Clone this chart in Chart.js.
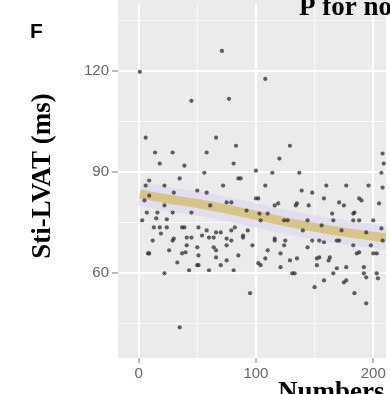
<!DOCTYPE html>
<html lang="en">
<head>
    <meta charset="UTF-8" />
    <title>Sti-LVAT vs Numbers</title>
    <script src="https://cdn.jsdelivr.net/npm/chart.js@4.4.1/dist/chart.umd.min.js"></script>
    <style>
        body { margin: 0; background: #ffffff; }
        #wrap { width: 390px; height: 394px; overflow: hidden; }
    </style>
</head>
<body>
    <div id="wrap"><canvas id="chart" width="390" height="394"></canvas></div>

    <script>
        // === Data ===
        const NUMBERS = [
            1, 71, 108, 45, 77, 6, 66, 14, 29, 58, 83, 129, 120, 18, 81, 56, 85, 114, 137, 209,
            208, 207, 35, 30, 58, 108, 139, 148, 177, 208, 6, 72, 87, 188, 79, 100, 119, 134, 171, 190,
            165, 184, 7, 16, 29, 45, 15, 24, 18, 37, 51, 66, 82, 93, 104, 124, 144, 183, 200, 29,
            45, 60, 79, 89, 116, 124, 148, 158, 171, 198, 9, 40, 51, 66, 85, 108, 129, 152, 163, 188,
            203, 51, 102, 177, 24, 58, 79, 19, 41, 54, 64, 75, 41, 50, 64, 75, 37, 66, 75, 22,
            81, 75, 116, 158, 175, 205, 103, 110, 166, 188, 125, 144, 154, 169, 183, 208, 121, 135, 154, 162,
            186, 200, 104, 121, 152, 169, 192, 203, 133, 158, 175, 194, 131, 166, 192, 204, 150, 177, 184, 194,
            95, 35, 5, 9, 22, 3, 12, 26, 33, 43, 60, 70, 97, 110, 140, 156, 173, 194, 207, 9,
            39, 100, 160, 196, 145, 92, 61, 50, 22, 13, 39, 70, 30, 89, 8, 50, 127, 116, 183,
            102, 135
        ];
        const LVAT = [
            119.7, 125.9, 117.6, 111.1, 111.7, 100.2, 100.2, 95.8, 95.8, 95.8, 97.8, 97.8, 94.0, 92.5, 92.5, 89.8, 88.1, 89.8, 89.8, 92.5,
            95.5, 89.8, 88.1, 83.9, 83.9, 86.0, 84.5, 83.9, 86.0, 85.4, 86.0, 86.0, 88.1, 82.2, 81.0, 82.2, 80.7, 80.1, 81.0, 81.6,
            77.7, 78.0, 78.0, 78.0, 78.0, 78.0, 76.3, 76.0, 73.6, 73.6, 73.6, 72.1, 73.6, 72.7, 75.7, 75.7, 75.7, 75.7, 75.7, 69.7,
            70.6, 70.6, 69.7, 70.6, 69.7, 68.3, 69.7, 69.2, 69.7, 68.3, 65.9, 66.2, 65.3, 66.8, 65.3, 64.4, 63.8, 64.4, 64.7, 66.2,
            65.9, 62.4, 63.0, 61.8, 73.6, 72.7, 72.7, 71.8, 70.6, 71.2, 70.6, 70.3, 68.3, 67.7, 67.7, 68.3, 65.9, 64.7, 63.8, 60.0,
            60.9, 81.0, 80.1, 82.2, 80.1, 80.7, 77.7, 77.7, 75.7, 75.7, 69.7, 67.7, 69.7, 69.7, 68.3, 69.7, 65.9, 64.4, 64.7, 63.8,
            65.9, 65.9, 62.4, 61.8, 62.4, 61.5, 61.8, 60.0, 60.0, 57.9, 57.3, 58.8, 60.0, 60.0, 60.0, 58.5, 55.9, 57.9, 54.1, 51.1,
            54.1, 44.0, 81.6, 83.0, 80.1, 75.7, 69.7, 66.8, 63.2, 60.9, 60.9, 62.4, 68.3, 66.8, 72.7, 74.2, 72.7, 72.1, 73.3, 87.5,
            91.9, 90.4, 86.0, 86.0, 80.1, 78.6, 80.1, 84.5, 86.0, 73.6, 73.6, 72.1, 70.3, 71.2, 65.9, 62.4, 75.7, 70.3, 77.7,
            82.2, 80.7
        ];
        // fitted smooth curve
        const SMOOTH_X = [1, 25, 50, 75, 100, 125, 150, 175, 200, 215];
        const SMOOTH_Y = [83.5, 82.0, 80.7, 79.0, 77.2, 75.3, 73.6, 72.2, 71.0, 70.4];

        const X_TICKS = [0, 50, 100, 150, 200];
        const X_MAJOR = [0, 100, 200];
        const Y_TICKS = [45, 60, 75, 90, 105, 120, 135];
        const Y_MAJOR = [60, 90, 120];

        const PANEL_LABEL = "F";
        const TITLE = "P for nonlinear";
        const X_TITLE = "Numbers";
        const Y_TITLE = "Sti-LVAT (ms)";

        const points = NUMBERS.map((x, i) => ({ x: x, y: LVAT[i] }));
        const smooth = SMOOTH_X.map((x, i) => ({ x: x, y: SMOOTH_Y[i] }));

        // gray panel background (ggplot style), run to the top edge
        const panelBg = {
            id: "panelBg",
            beforeDraw(chart) {
                const a = chart.chartArea;
                const c = chart.ctx;
                c.save();
                c.fillStyle = "#ebebeb";
                c.fillRect(a.left, 0, a.right - a.left, a.bottom);
                c.restore();
            }
        };

        // titles and panel letter
        const labels = {
            id: "labels",
            afterDraw(chart) {
                const c = chart.ctx;
                c.save();
                c.fillStyle = "#000";
                c.font = "bold 21px 'Liberation Sans', Arial, sans-serif";
                c.textBaseline = "alphabetic";
                c.fillText(PANEL_LABEL, 30, 38);

                c.font = "bold 27px 'Liberation Serif', 'Times New Roman', serif";
                c.fillText(TITLE, 299, 15);
                c.fillText(X_TITLE, 278, 400);

                c.translate(50, 176);
                c.rotate(-Math.PI / 2);
                c.textAlign = "center";
                c.fillText(Y_TITLE, 0, 0);
                c.restore();
            }
        };

        const gridColor = (major) => (ctx) => {
            const v = ctx.tick ? ctx.tick.value : null;
            return major.includes(v) ? "#ffffff" : "rgba(255,255,255,0.65)";
        };
        const gridWidth = (major) => (ctx) => {
            const v = ctx.tick ? ctx.tick.value : null;
            return major.includes(v) ? 2 : 1;
        };
        const tickColor = (major) => (ctx) => {
            const v = ctx.tick ? ctx.tick.value : null;
            return major.includes(v) ? "#777" : "rgba(0,0,0,0)";
        };

        new Chart(document.getElementById("chart"), {
            type: "scatter",
            data: {
                datasets: [
                    {
                        // confidence ribbon
                        data: smooth,
                        showLine: true,
                        tension: 0.4,
                        borderColor: "rgba(222,218,242,0.75)",
                        borderWidth: 24,
                        pointRadius: 0,
                        borderCapStyle: "butt",
                        order: 3
                    },
                    {
                        data: smooth,
                        showLine: true,
                        tension: 0.4,
                        borderColor: "rgba(214,190,105,0.8)",
                        borderWidth: 9,
                        pointRadius: 0,
                        borderCapStyle: "butt",
                        order: 2
                    },
                    {
                        data: points,
                        pointRadius: 2.1,
                        pointBorderWidth: 0,
                        pointBackgroundColor: "rgba(45,45,45,0.75)",
                        order: 1
                    }
                ]
            },
            options: {
                responsive: false,
                animation: false,
                layout: { padding: 0 },
                plugins: {
                    legend: { display: false },
                    tooltip: { enabled: false }
                },
                scales: {
                    x: {
                        type: "linear",
                        min: -17.6,
                        max: 210.9,
                        afterBuildTicks: (s) => { s.ticks = X_TICKS.map((v) => ({ value: v })); },
                        afterFit: (s) => { s.height = 36; s.paddingLeft = 0; s.paddingRight = 0; },
                        border: { display: false },
                        grid: {
                            color: gridColor(X_MAJOR),
                            lineWidth: gridWidth(X_MAJOR),
                            tickColor: tickColor(X_MAJOR),
                            tickLength: 5,
                            tickWidth: 1
                        },
                        ticks: {
                            padding: 2,
                            maxRotation: 0,
                            autoSkip: false,
                            color: "#666",
                            font: { family: "'Liberation Sans', Arial, sans-serif", size: 15 },
                            callback: (v) => (X_MAJOR.includes(v) ? String(v) : "")
                        }
                    },
                    y: {
                        type: "linear",
                        min: 34.9,
                        max: 139.8,
                        afterBuildTicks: (s) => { s.ticks = Y_TICKS.map((v) => ({ value: v })); },
                        afterFit: (s) => { s.width = 118; s.paddingTop = 0; s.paddingBottom = 0; },
                        border: { display: false },
                        grid: {
                            color: gridColor(Y_MAJOR),
                            lineWidth: gridWidth(Y_MAJOR),
                            tickColor: tickColor(Y_MAJOR),
                            tickLength: 6,
                            tickWidth: 1
                        },
                        ticks: {
                            padding: 3,
                            autoSkip: false,
                            color: "#666",
                            font: { family: "'Liberation Sans', Arial, sans-serif", size: 15 },
                            callback: (v) => (Y_MAJOR.includes(v) ? String(v) : "")
                        }
                    }
                }
            },
            plugins: [panelBg, labels]
        });
    </script>
</body>
</html>
